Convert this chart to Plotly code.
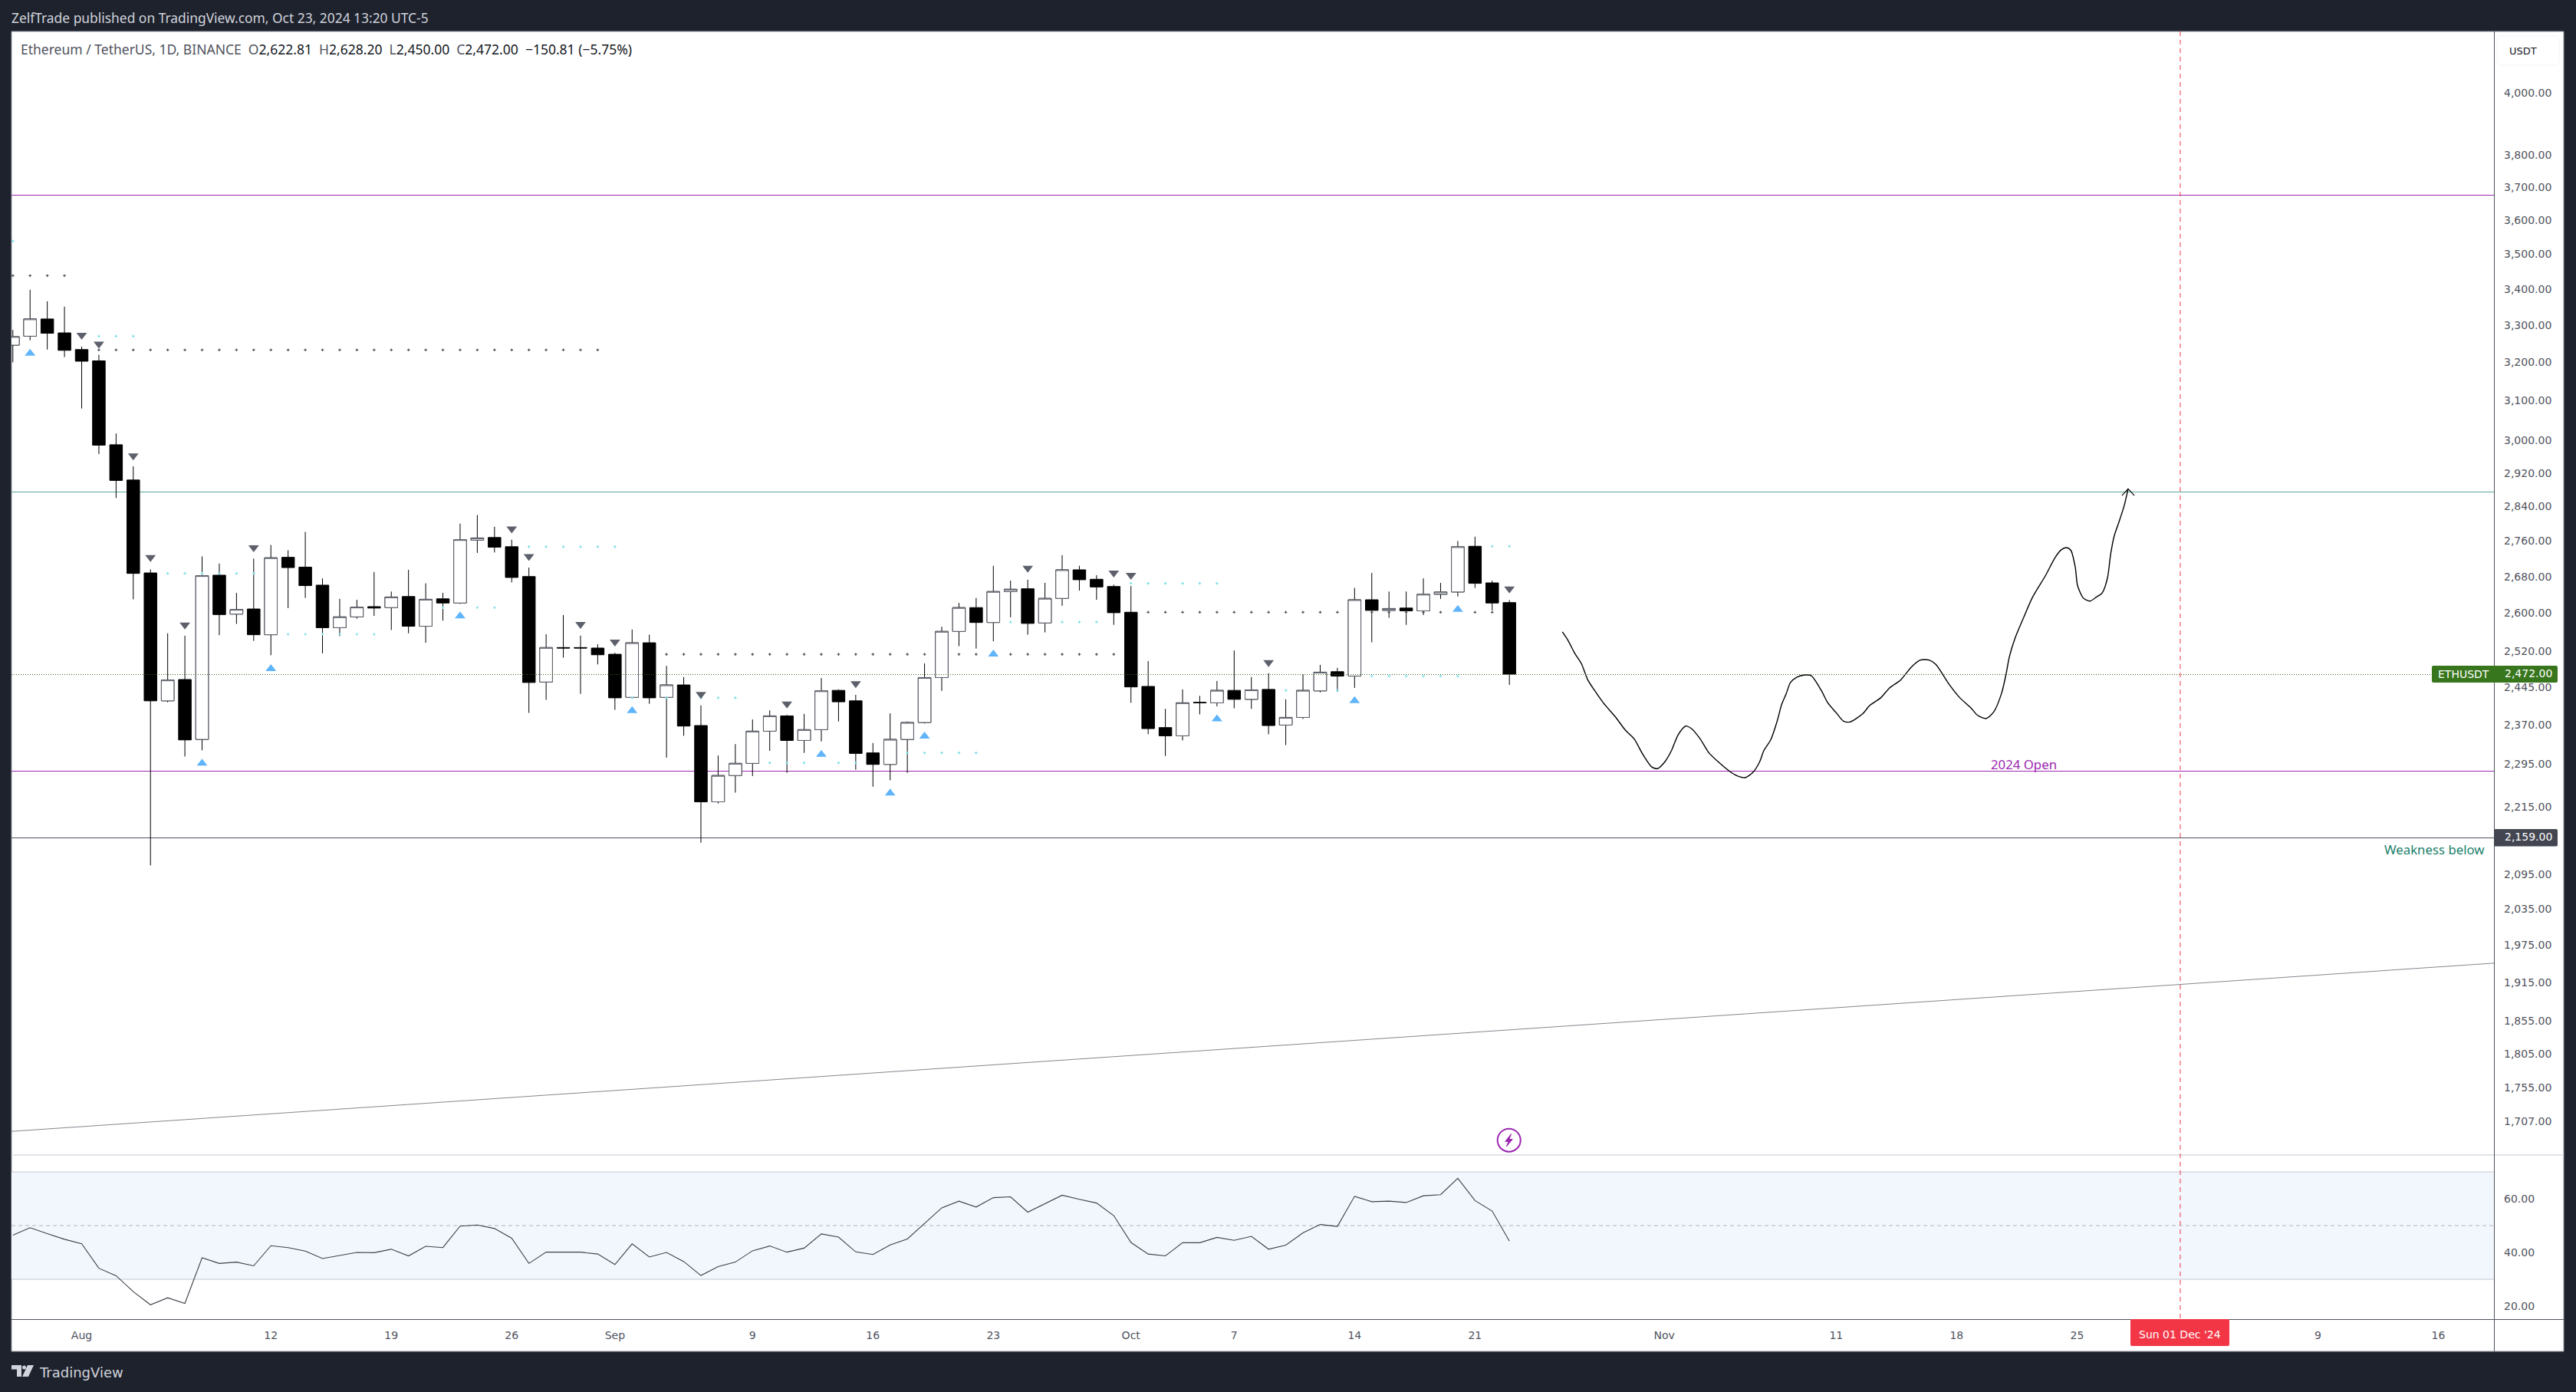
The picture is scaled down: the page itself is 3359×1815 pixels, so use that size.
import math
import pandas as pd
import plotly.graph_objects as go

W, H = 3359, 1815

# ---------- data ----------
dates = pd.date_range("2024-07-28", "2024-10-23").strftime("%Y-%m-%d").tolist()

opens = [3246, 3270, 3317, 3279,
         3234, 3204, 2989, 2903, 2688, 2418, 2461, 2342, 2683, 2598, 2609, 2554, 2723, 2701, 2661, 2569, 2592, 2614, 2612, 2636, 2572, 2631, 2622, 2762, 2768, 2747, 2680, 2456, 2527, 2527, 2526,
         2513, 2425, 2537, 2425, 2450, 2369, 2224, 2273, 2296, 2358, 2388, 2340, 2361, 2439, 2418, 2316, 2294, 2342, 2375, 2465, 2561, 2612, 2580, 2647, 2653, 2579, 2632, 2695, 2674, 2658,
         2602, 2447, 2365, 2349, 2415, 2414, 2439, 2421, 2441, 2370, 2385, 2438, 2477, 2468, 2629, 2606, 2611, 2605, 2641, 2646, 2748, 2666, 2622.81]
highs = [3287, 3398, 3366, 3351,
         3242, 3220, 3017, 2936, 2696, 2557, 2552, 2725, 2709, 2644, 2720, 2751, 2739, 2781, 2676, 2631, 2629, 2690, 2647, 2695, 2665, 2644, 2800, 2820, 2793, 2763, 2700, 2555, 2596, 2552, 2534,
         2516, 2565, 2554, 2489, 2466, 2409, 2311, 2333, 2381, 2399, 2390, 2392, 2464, 2441, 2430, 2335, 2393, 2377, 2494, 2571, 2622, 2633, 2704, 2671, 2673, 2666, 2728, 2704, 2683, 2662,
         2659, 2499, 2402, 2441, 2428, 2458, 2521, 2466, 2474, 2421, 2472, 2491, 2485, 2655, 2688, 2647, 2647, 2676, 2666, 2760, 2770, 2671, 2628.20]
lows = [3200, 3259, 3234, 3214,
        3080, 2966, 2860, 2630, 2110, 2415, 2309, 2321, 2553, 2577, 2541, 2511, 2611, 2633, 2515, 2551, 2588, 2594, 2564, 2557, 2537, 2584, 2620, 2733, 2734, 2667, 2394, 2420, 2506, 2432, 2492,
        2400, 2424, 2412, 2307, 2349, 2150, 2221, 2241, 2272, 2320, 2278, 2316, 2338, 2377, 2284, 2252, 2264, 2278, 2373, 2438, 2530, 2525, 2540, 2591, 2554, 2559, 2616, 2649, 2629, 2575,
        2414, 2352, 2310, 2340, 2391, 2407, 2403, 2402, 2352, 2331, 2382, 2435, 2436, 2444, 2538, 2590, 2575, 2596, 2631, 2636, 2655, 2606, 2450.00]
closes = [3269, 3317, 3278, 3232,
          3203, 2988, 2902, 2687, 2418, 2460, 2341, 2682, 2597, 2608, 2554, 2722, 2700, 2660, 2569, 2592, 2613, 2611, 2635, 2572, 2630, 2622, 2763, 2767, 2746, 2678, 2455, 2527, 2526, 2526, 2512,
          2424, 2537, 2424, 2450, 2368, 2224, 2273, 2296, 2358, 2388, 2340, 2361, 2438, 2416, 2315, 2294, 2342, 2375, 2465, 2561, 2612, 2580, 2647, 2652, 2578, 2632, 2695, 2673, 2657, 2601,
          2446, 2363, 2349, 2414, 2414, 2439, 2421, 2440, 2369, 2385, 2439, 2476, 2468, 2629, 2606, 2610, 2605, 2641, 2646, 2747, 2665, 2622, 2472.00]
rsi_values = [46.4, 49.2, 47.0, 44.9,
              43.2, 34.1, 31.3, 25.4, 20.5, 23.1, 21.0, 38.0, 35.9, 36.4, 35.0, 42.5, 41.8, 40.5, 37.7, 38.8, 40.0, 39.9, 41.2, 38.7, 42.3, 41.8, 49.8, 50.2, 48.9, 45.3, 35.9, 40.1, 40.1, 40.1, 39.4,
              35.5, 43.2, 38.3, 40.0, 36.6, 31.4, 34.7, 36.4, 40.6, 42.4, 40.1, 41.6, 46.9, 45.7, 40.2, 39.2, 42.8, 45.0, 50.9, 56.6, 59.1, 56.9, 60.4, 60.7, 55.0, 58.2, 61.3, 59.8, 58.4, 53.7,
              43.7, 39.4, 38.7, 43.6, 43.6, 45.6, 44.5, 46.0, 41.2, 42.7, 47.3, 50.4, 49.7, 60.9, 58.9, 59.1, 58.6, 61.1, 61.5, 67.6, 59.3, 55.4, 44.2]
assert len(dates) == len(opens) == len(highs) == len(lows) == len(closes) == len(rsi_values)

down_signal_dates = ["2024-08-01", "2024-08-02", "2024-08-04", "2024-08-05", "2024-08-07", "2024-08-11", "2024-08-26", "2024-08-27", "2024-08-30", "2024-09-01", "2024-09-06", "2024-09-11", "2024-09-15", "2024-09-25", "2024-09-30", "2024-10-01", "2024-10-09", "2024-10-23"]
down_signal_prices = [3273, 3249, 2962, 2723, 2575, 2745, 2788, 2725, 2576, 2539, 2431, 2412, 2453, 2699, 2688, 2683, 2496, 2653]
up_signal_dates = ["2024-07-29", "2024-08-08", "2024-08-12", "2024-08-23", "2024-09-02", "2024-09-13", "2024-09-17", "2024-09-19", "2024-09-23", "2024-10-06", "2024-10-14", "2024-10-20"]
up_signal_prices = [3224, 2296, 2483, 2594, 2398, 2313, 2240, 2348, 2513, 2382, 2418, 2608]

gray_levels = [("2024-07-28", "2024-07-31", 3438), ("2024-08-02", "2024-08-31", 3233),
               ("2024-09-04", "2024-09-30", 2513), ("2024-10-02", "2024-10-22", 2602)]
cyan_levels = [("2024-07-28", "2024-07-28", 3538), ("2024-08-02", "2024-08-04", 3270),
               ("2024-08-06", "2024-08-11", 2687), ("2024-08-13", "2024-08-18", 2555),
               ("2024-08-22", "2024-08-25", 2612), ("2024-08-27", "2024-09-01", 2747),
               ("2024-09-02", "2024-09-08", 2424), ("2024-09-10", "2024-09-15", 2297),
               ("2024-09-18", "2024-09-22", 2316), ("2024-09-24", "2024-09-29", 2581),
               ("2024-10-01", "2024-10-06", 2665), ("2024-10-10", "2024-10-13", 2439),
               ("2024-10-15", "2024-10-20", 2468), ("2024-10-22", "2024-10-23", 2748)]

# hand-drawn projection: days after 2024-08-01, price
path_days = [86.08, 86.41, 86.80, 87.18, 87.56, 87.95, 88.46, 89.23, 89.74, 90.25, 90.76, 91.28, 91.61, 92.04, 92.43, 92.81, 93.25, 93.58, 94.09, 94.60, 95.24, 95.88, 96.27, 96.70, 97.16, 97.55, 97.80, 98.19, 98.57, 98.83, 99.08, 99.34, 99.72, 100.11, 100.54, 101.13, 101.51, 102.03, 102.41, 102.79, 103.56, 103.95, 104.59, 105.10, 105.74, 106.38, 106.89, 107.40, 107.79, 108.55, 109.19, 109.83, 110.22, 110.73, 111.16, 111.62, 111.88, 112.06, 112.39, 112.90, 113.42, 114.18, 114.70, 115.08, 115.39, 115.64, 115.90, 116.03, 116.36, 116.74, 117.13, 117.46, 117.77, 117.95, 118.15, 118.48, 118.74, 118.97]
path_prices = [2560, 2542, 2515, 2494, 2460, 2439, 2414, 2383, 2360, 2343, 2313, 2289, 2286, 2299, 2321, 2351, 2368, 2363, 2343, 2316, 2296, 2279, 2272, 2269, 2279, 2299, 2321, 2341, 2378, 2411, 2431, 2455, 2466, 2470, 2469, 2439, 2414, 2393, 2378, 2376, 2393, 2409, 2424, 2444, 2460, 2487, 2501, 2501, 2492, 2452, 2424, 2404, 2389, 2383, 2396, 2434, 2473, 2507, 2546, 2591, 2635, 2683, 2721, 2740, 2745, 2739, 2700, 2660, 2633, 2626, 2635, 2644, 2677, 2729, 2770, 2809, 2842, 2882]
arrow_days = [118.61, 118.97, 119.33]
arrow_prices = [2866, 2882, 2866]

level_purple_high = 3675
level_teal = 2875
level_last = 2472
level_open_2024 = 2281.87
level_weakness = 2159
trend_prices = [1693, 1946]

price_ticks = [4000, 3800, 3700, 3600, 3500, 3400, 3300, 3200, 3100, 3000, 2920, 2840, 2760, 2680, 2600, 2520, 2445, 2370, 2295, 2215, 2095, 2035, 1975, 1915, 1855, 1805, 1755, 1707]
price_tick_labels = [f"{v:,.2f}" for v in price_ticks]
rsi_ticks = [60, 40, 20]
rsi_tick_labels = ["60.00", "40.00", "20.00"]
time_ticks = ["2024-08-01", "2024-08-12", "2024-08-19", "2024-08-26", "2024-09-01", "2024-09-09", "2024-09-16", "2024-09-23", "2024-10-01", "2024-10-07", "2024-10-14", "2024-10-21", "2024-11-01", "2024-11-11", "2024-11-18", "2024-11-25", "2024-12-09", "2024-12-16"]
time_labels = ["Aug", "12", "19", "26", "Sep", "9", "16", "23", "Oct", "7", "14", "21", "Nov", "11", "18", "25", "9", "16"]
marker_date = "2024-12-01"

# ---------- layout constants (pixels) ----------
PLOT_L, AXIS_X, FRAME_R = 15, 3252, 3343
FRAME_T, SEP_Y, TIME_Y, FRAME_B = 41, 1506, 1720, 1762
PX_PER_DAY, AUG1_X = 22.43, 106.5
PX_PER_LOG = 1575.0
Y_2472 = 879.0

def X(p): return p / W
def Y(p): return 1 - p / H
def price_at(y): return 2472 * math.exp((Y_2472 - y) / PX_PER_LOG)
def y_of(p): return Y_2472 - PX_PER_LOG * math.log(p / 2472)
def crisp(p):
    """nudge a level by under a pixel so its 1px line lands on the pixel grid"""
    return price_at(math.floor(y_of(p)) + 0.5)
def day_to_date(d): return (pd.Timestamp("2024-08-01") + pd.Timedelta(days=d)).strftime("%Y-%m-%d %H:%M:%S")
def rrect(x0, y0, x1, y1, r):
    return (f"M{X(x0+r)},{Y(y0)} L{X(x1-r)},{Y(y0)} Q{X(x1)},{Y(y0)} {X(x1)},{Y(y0+r)} "
            f"L{X(x1)},{Y(y1-r)} Q{X(x1)},{Y(y1)} {X(x1-r)},{Y(y1)} L{X(x0+r)},{Y(y1)} "
            f"Q{X(x0)},{Y(y1)} {X(x0)},{Y(y1-r)} L{X(x0)},{Y(y0+r)} Q{X(x0)},{Y(y0)} {X(x0+r)},{Y(y0)} Z")
def poly(pts):
    return "M" + " L".join(f"{X(a)},{Y(b)}" for a, b in pts) + " Z"

x_range = [day_to_date((PLOT_L - AUG1_X) / PX_PER_DAY), day_to_date((AXIS_X - AUG1_X) / PX_PER_DAY)]

DARK = "#1e222d"
AX = "#50535e"
font = "DejaVu Sans"
text_font = "Noto Sans"

fig = go.Figure()

lookup = {d: (min(o, c), max(o, c)) for d, o, c in zip(dates, opens, closes)}
up_sig = dict(zip(up_signal_dates, up_signal_prices))
def level_points(levels):
    xs, ys = [], []
    for start, end, lv in levels:
        for d in pd.date_range(start, end).strftime("%Y-%m-%d"):
            lo, hi = lookup[d]
            under_body = lo <= lv <= hi
            under_signal = d in up_sig and abs(up_sig[d] - lv) / lv < 0.008
            if not (under_body or under_signal):
                xs.append(d); ys.append(lv)
    return xs, ys

fig.add_trace(go.Candlestick(x=dates, open=opens, high=highs, low=lows, close=closes,
                             increasing=dict(line=dict(color="#000000", width=1), fillcolor="#ffffff"),
                             decreasing=dict(line=dict(color="#000000", width=1), fillcolor="#000000"),
                             whiskerwidth=0, xaxis="x", yaxis="y", showlegend=False, hoverinfo="skip"))
up = [i for i in range(len(dates)) if closes[i] > opens[i]]
fig.add_trace(go.Candlestick(x=[dates[i] for i in up], open=[opens[i] for i in up],
                             high=[closes[i] for i in up], low=[opens[i] for i in up],
                             close=[closes[i] for i in up],
                             increasing=dict(line=dict(color="#5d606b", width=1), fillcolor="#ffffff"),
                             whiskerwidth=0, xaxis="x", yaxis="y", showlegend=False, hoverinfo="skip"))

gx, gy = level_points(gray_levels)
fig.add_trace(go.Scatter(x=gx, y=gy, mode="markers", marker=dict(symbol="cross", size=3, color="#50535e", line=dict(width=0)), xaxis="x", yaxis="y", hoverinfo="skip"))
cx, cy = level_points(cyan_levels)
fig.add_trace(go.Scatter(x=cx, y=cy, mode="markers", marker=dict(symbol="cross", size=3, color="#80deea", line=dict(width=0)), xaxis="x", yaxis="y", hoverinfo="skip"))

fig.add_trace(go.Scatter(x=down_signal_dates, y=down_signal_prices, mode="markers",
                         marker=dict(symbol="triangle-down", size=12, color="#5d606b", line=dict(width=0)), xaxis="x", yaxis="y", hoverinfo="skip"))
fig.add_trace(go.Scatter(x=up_signal_dates, y=up_signal_prices, mode="markers",
                         marker=dict(symbol="triangle-up", size=12, color="#5fb4fa", line=dict(width=0)), xaxis="x", yaxis="y", hoverinfo="skip"))

fig.add_trace(go.Scatter(x=[day_to_date(d) for d in path_days], y=path_prices, mode="lines",
                         line=dict(color="#000000", width=1.4, shape="spline", smoothing=0.7), xaxis="x", yaxis="y", hoverinfo="skip"))
fig.add_trace(go.Scatter(x=[day_to_date(d) for d in arrow_days], y=arrow_prices, mode="lines",
                         line=dict(color="#000000", width=1.2), xaxis="x", yaxis="y", hoverinfo="skip"))

fig.add_trace(go.Scatter(x=dates, y=rsi_values, mode="lines", line=dict(color="#3d4048", width=1.1),
                         xaxis="x2", yaxis="y2", hoverinfo="skip"))

shapes = []
def hline(price, color, width=1, dash="solid", layer="below"):
    shapes.append(dict(type="line", xref="x domain", yref="y", x0=0, x1=1, y0=price, y1=price,
                       line=dict(color=color, width=width, dash=dash), layer=layer))
def pline(x0, y0, x1, y1, color, width=1, dash="solid", layer="above"):
    shapes.append(dict(type="line", xref="paper", yref="paper", x0=X(x0), x1=X(x1), y0=Y(y0), y1=Y(y1),
                       line=dict(color=color, width=width, dash=dash), layer=layer))

shapes.append(dict(type="rect", xref="paper", yref="paper", x0=X(PLOT_L), x1=X(FRAME_R), y0=Y(FRAME_T), y1=Y(FRAME_B),
                   fillcolor="#ffffff", line=dict(color="#9598a1", width=1), layer="below"))
hline(crisp(level_purple_high), "#9c27b0", 1)
hline(crisp(level_teal), "#5aa99b", 1)
hline(crisp(level_open_2024), "#9c27b0", 1)
hline(crisp(level_weakness), "#4c4f5c", 1)
hline(crisp(level_last), "#33691e", 1, "1px,2px", "above")
shapes.append(dict(type="line", xref="x domain", yref="y", x0=0, x1=1, y0=trend_prices[0], y1=trend_prices[1],
                   line=dict(color="#85878f", width=1), layer="below"))
shapes.append(dict(type="rect", xref="x2 domain", yref="y2", x0=0, x1=1, y0=30, y1=70,
                   fillcolor="#f2f6fd", line=dict(width=0), layer="below"))
for v in (30, 70):
    shapes.append(dict(type="line", xref="x2 domain", yref="y2", x0=0, x1=1, y0=v, y1=v,
                       line=dict(color="#c3c6d3", width=1), layer="below"))
shapes.append(dict(type="line", xref="x2 domain", yref="y2", x0=0, x1=1, y0=50, y1=50,
                   line=dict(color="#b2b5be", width=1, dash="5px,4px"), layer="below"))
pline(PLOT_L, SEP_Y, FRAME_R, SEP_Y, "#e0e3eb", 2)
pline(PLOT_L, TIME_Y + 0.5, FRAME_R, TIME_Y + 0.5, AX, 1)
pline(AXIS_X + 0.5, FRAME_T, AXIS_X + 0.5, FRAME_B, AX, 1)
shapes.append(dict(type="line", xref="x", yref="paper", x0=marker_date, x1=marker_date, y0=Y(FRAME_T), y1=Y(TIME_Y),
                   line=dict(color="#f23645", width=1, dash="6px,5px"), layer="above"))
shapes.append(dict(type="path", xref="paper", yref="paper", path=rrect(2778, TIME_Y, 2907, 1755, 2), fillcolor="#f23645", line=dict(width=0), layer="above"))
shapes.append(dict(type="path", xref="paper", yref="paper", path=rrect(3171, 868, 3335, 890, 2), fillcolor="#38761d", line=dict(width=0), layer="above"))
shapes.append(dict(type="path", xref="paper", yref="paper", path=rrect(AXIS_X, 1081, 3335, 1103.6, 2), fillcolor="#434651", line=dict(width=0), layer="above"))
shapes.append(dict(type="path", xref="paper", yref="paper", path=rrect(3256, 47, 3337, 85, 6), fillcolor="#ffffff", line=dict(color="#f0f3fa", width=1), layer="above"))
shapes.append(dict(type="circle", xref="paper", yref="paper", x0=X(1952.7), x1=X(1982.7), y0=Y(1471.7), y1=Y(1501.7), fillcolor="rgba(0,0,0,0)", line=dict(color="#9c27b0", width=2), layer="above"))
shapes.append(dict(type="path", xref="paper", yref="paper", path=poly([(1970.5, 1478.5), (1962.8, 1488.3), (1967.2, 1488.3), (1964.3, 1495), (1972.2, 1485.5), (1967.8, 1485.5)]), fillcolor="#9c27b0", line=dict(color="#9c27b0", width=1), layer="above"))
shapes.append(dict(type="path", xref="paper", yref="paper", path=poly([(15, 1780), (28, 1780), (28, 1795), (22, 1795), (22, 1785.5), (15, 1785.5)]), fillcolor="#d1d4dc", line=dict(width=0), layer="above"))
shapes.append(dict(type="circle", xref="paper", yref="paper", x0=X(29), x1=X(34), y0=Y(1780.5), y1=Y(1785.5), fillcolor="#d1d4dc", line=dict(width=0), layer="above"))
shapes.append(dict(type="path", xref="paper", yref="paper", path=poly([(36, 1780), (44, 1780), (37, 1795), (29, 1795)]), fillcolor="#d1d4dc", line=dict(width=0), layer="above"))

def txt(x, y, s, size=14, color="#131722", anchor="left", family=font):
    return dict(xref="paper", yref="paper", x=X(x), y=Y(y), text=s, showarrow=False, xanchor=anchor, yanchor="middle",
                font=dict(family=family, size=size, color=color), borderpad=0, borderwidth=0)

G = "#50535e"
def pair(k, v): return f'<span style="color:{G}">{k}</span>{v}'
legend = (f'<span style="color:{G}">Ethereum / TetherUS, 1D, BINANCE</span>  ' +
          "  ".join(pair(k, v) for k, v in [("O", "2,622.81"), ("H", "2,628.20"), ("L", "2,450.00"), ("C", "2,472.00")]) +
          "  −150.81 (−5.75%)")

annotations = [
    txt(15, 23, "ZelfTrade published on TradingView.com, Oct 23, 2024 13:20 UTC-5", 17.4, "#d1d4dc", family=text_font),
    txt(27, 64, legend, 17.5, family=text_font),
    txt(51, 1789, "TradingView", 18, "#d1d4dc"),
    txt(3290, 66, "USDT", 13, "#131722", "center"),
    txt(3212, 879, "ETHUSDT", 14, "#ffffff", "center"),
    txt(3297, 878, "2,472.00", 14, "#ffffff", "center"),
    txt(3297, 1091, "2,159.00", 14, "#ffffff", "center"),
    txt(3240, 1107, "Weakness below", 16.8, "#1a7f6b", "right", family=text_font),
    txt(2639, 996, "2024 Open", 16.8, "#9c27b0", "center", family=text_font),
    txt(2842.5, 1740, "Sun 01 Dec '24", 14, "#ffffff", "center"),
]

fig.update_layout(
    width=W, height=H, margin=dict(l=0, r=0, t=0, b=0), autosize=False,
    paper_bgcolor=DARK, plot_bgcolor="rgba(0,0,0,0)", showlegend=False,
    boxmode="overlay", boxgap=0.265, boxgroupgap=0,
    font=dict(family=font),
    shapes=shapes, annotations=annotations,
    xaxis=dict(domain=[X(PLOT_L), X(AXIS_X)], range=x_range, type="date", anchor="y", showgrid=False, zeroline=False,
               showticklabels=False, ticks="", showline=False, rangeslider=dict(visible=False)),
    yaxis=dict(domain=[Y(SEP_Y), Y(FRAME_T)], type="log",
               range=[math.log10(price_at(SEP_Y)), math.log10(price_at(FRAME_T))],
               side="right", anchor="x", showgrid=False, zeroline=False, showline=False, ticks="",
               tickmode="array", tickvals=price_ticks, ticktext=price_tick_labels,
               ticklabelstandoff=12, tickfont=dict(family=font, size=14, color=G)),
    xaxis2=dict(domain=[X(PLOT_L), X(AXIS_X)], range=x_range, type="date", anchor="y2", showgrid=False, zeroline=False,
                ticks="", showline=False, tickmode="array", tickvals=time_ticks, ticktext=time_labels,
                ticklabelstandoff=11, tickangle=0, tickfont=dict(family=font, size=14, color=G)),
    yaxis2=dict(domain=[Y(TIME_Y), Y(SEP_Y)], range=[50 - (TIME_Y - 1598) / 3.5, 50 + (1598 - SEP_Y) / 3.5],
                side="right", anchor="x2", showgrid=False, zeroline=False, showline=False, ticks="",
                tickmode="array", tickvals=rsi_ticks, ticktext=rsi_tick_labels,
                ticklabelstandoff=12, tickfont=dict(family=font, size=14, color=G)),
)
fig.write_html("out.html", config={"displayModeBar": False},
               post_script="document.body.style.margin='0';document.body.style.overflow='hidden';document.documentElement.style.background='#1e222d';")
